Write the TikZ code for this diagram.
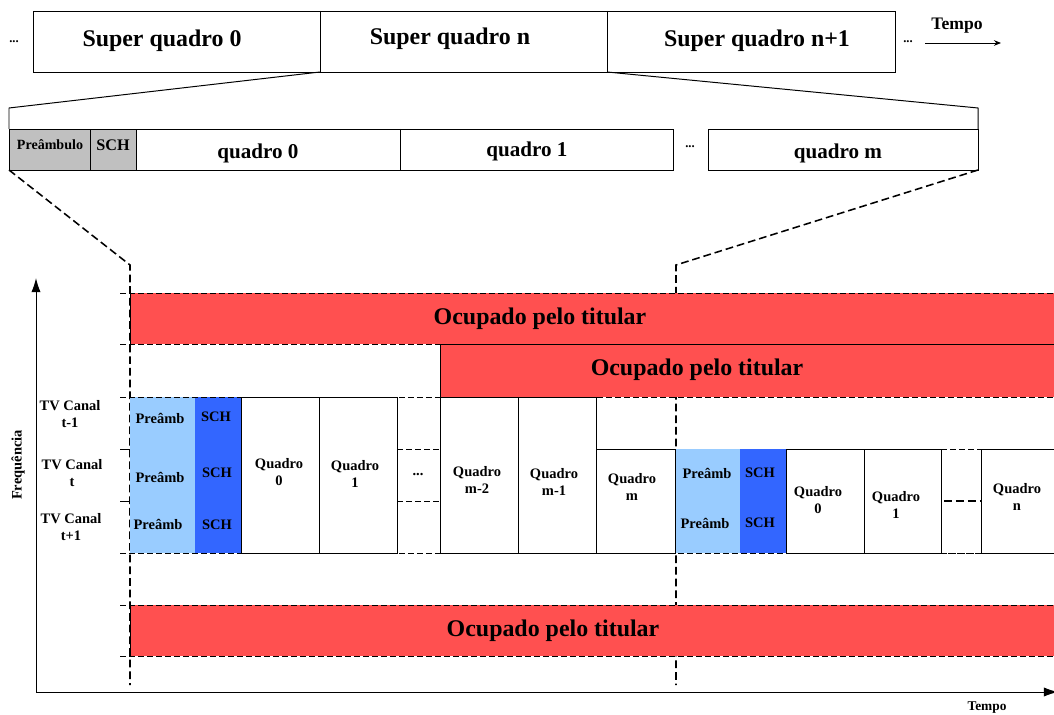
\documentclass[tikz,border=0pt]{standalone}
\usepackage{fontspec}
\setmainfont{Liberation Serif}
\usetikzlibrary{arrows.meta}

\definecolor{occ}{RGB}{255,80,80}
\definecolor{preamb}{RGB}{153,204,255}
\definecolor{sch}{RGB}{51,102,255}
\definecolor{hdr}{RGB}{192,192,192}

\tikzset{
  bigtxt/.style={font=\fontsize{17}{19}\selectfont\bfseries, inner sep=0pt},
  midtxt/.style={font=\fontsize{15}{17}\selectfont\bfseries, inner sep=0pt},
  hdrtxt/.style={font=\fontsize{10}{12}\selectfont\bfseries, inner sep=0pt},
  smalltxt/.style={font=\fontsize{10.3}{12}\selectfont\bfseries, align=center, inner sep=0pt},
  dotstxt/.style={font=\fontsize{9}{10}\selectfont\bfseries, inner sep=0pt},
  dsh/.style={dash pattern=on 4.2pt off 2.2pt, line width=0.7pt},
  vdsh/.style={dash pattern=on 5.5pt off 2.8pt, line width=1.1pt},
}

\begin{document}
\begin{tikzpicture}[x=0.025cm, y=-0.025cm, line width=0.7pt]
		\useasboundingbox (0,0) rectangle (1054,715);
		
		%%%%% super frames %%%%%
		\draw (33,11) rectangle (895,72);
		\draw (320,11) -- (320,72);
		\draw (607,11) -- (607,72);
		\node[bigtxt] (sq0) at (162,41) {Super quadro 0};
		\node[bigtxt] (sqn) at (450,39) {Super quadro n};
		\node[bigtxt] (sqn1) at (757,41) {Super quadro n+1};
		\node[dotstxt] (dl) at (14,42) {...};
		\node[dotstxt] (dr) at (908,42) {...};
		\coordinate (t0) at (925,43);
		\coordinate (t1) at (1001,43);
		\draw[-{Stealth[length=5pt,width=4pt]}] (t0) -- (t1);
		\node[font=\fontsize{12.5}{14}\selectfont\bfseries, inner sep=0pt] (tempo) at (957,26) {Tempo};
		
		%%%%% frames of super frame n %%%%%
		\draw[fill=hdr] (9,129) rectangle (90,170);
		\draw[fill=hdr] (90,129) rectangle (136,170);
		\draw (136,129) rectangle (673,170);
		\draw (400,129) -- (400,170);
		\draw (708,129) rectangle (978,170);
		\node[hdrtxt] (pre) at (50,145) {Preâmbulo};
		\node[font=\fontsize{11.5}{13}\selectfont\bfseries, inner sep=0pt] (sch) at (113,145) {SCH};
		\node[midtxt] (q0) at (258,153) {quadro 0};
		\node[midtxt] (q1) at (527,151) {quadro 1};
		\node[dotstxt] (qd) at (690,147) {...};
		\node[midtxt] (qm) at (838,153) {quadro m};
		
		% zoom lines
		\coordinate (sna) at (320,72);
		\coordinate (snb) at (607,72);
		\coordinate (fa) at (9,108);
		\coordinate (fb) at (9,129);
		\coordinate (fc) at (978,108);
		\coordinate (fd) at (978,129);
		\draw (sna) -- (fa) -- (fb);
		\draw (snb) -- (fc) -- (fd);
		
		% zoom lines down to the channels
		\coordinate (fe) at (9,170);
		\coordinate (ff) at (978,170);
		\coordinate (ka) at (130,265);
		\coordinate (kb) at (676,265);
		\coordinate (kc) at (130,685);
		\coordinate (kd) at (676,685);
		\draw[vdsh] (fe) -- (ka) -- (kc);
		\draw[vdsh] (ff) -- (kb) -- (kd);
		
		%%%%% occupied bands %%%%%
		\fill[occ] (130,293) rectangle (1054,344);
		\fill[occ] (440,344) rectangle (1054,397);
		\fill[occ] (130,605) rectangle (1054,656);
		\draw (130,293) -- (130,344);
		\draw (130,605) -- (130,656);
		\node[bigtxt] (oc1) at (540,319) {Ocupado pelo titular};
		\node[bigtxt] (oc2) at (697,370) {Ocupado pelo titular};
		\node[bigtxt] (oc3) at (553,631) {Ocupado pelo titular};
		
		%%%%% channels %%%%%
		\fill[preamb] (130,397) rectangle (195,553);
		\fill[sch] (195,397) rectangle (241,553);
		\fill[preamb] (675,449) rectangle (740,553);
		\fill[sch] (740,449) rectangle (786,553);
		
		\foreach \y in {293,344,397,553,605,656}
			\draw[dsh] (120,\y) -- (1054,\y);
		\foreach \y in {449,501}
			\draw (120,\y) -- (130,\y);
		\draw (440,397) -- (440,344) -- (1054,344);
		
		\draw (241,397) rectangle (319,553);
		\draw (319,397) rectangle (397,553);
		\draw[dsh] (397,449) -- (440,449);
		\draw[dsh] (397,501) -- (440,501);
		\draw (440,397) rectangle (518,553);
		\draw (518,397) rectangle (596,553);
		\draw (596,449) rectangle (675,553);
		\draw (786,449) rectangle (864,553);
		\draw (864,449) rectangle (941,553);
		\draw[dsh] (941,449) -- (981,449);
		\draw[dsh] (941,553) -- (981,553);
		\draw[dash pattern=on 6pt off 2.5pt, line width=1.3pt] (944,501) -- (980,501);
		\draw (1054,449) -- (981,449) -- (981,553) -- (1054,553);
		
		% labels
		\node[smalltxt] (tv1) at (70,414) {TV Canal\\t-1};
		\node[smalltxt] (tv2) at (72,473) {TV Canal\\t};
		\node[smalltxt] (tv3) at (71,527) {TV Canal\\t+1};
		
		\node[smalltxt] (pa1) at (160,418) {Preâmb};
		\node[smalltxt] (pa2) at (160,477) {Preâmb};
		\node[smalltxt] (pa3) at (158,524) {Preâmb};
		\node[smalltxt] (sa1) at (216,417) {SCH};
		\node[smalltxt] (sa2) at (217,473) {SCH};
		\node[smalltxt] (sa3) at (217,525) {SCH};
		\node[smalltxt] (qa0) at (279,472) {Quadro\\0};
		\node[smalltxt] (qa1) at (355,474) {Quadro\\1};
		\node[smalltxt] (qad) at (418,475) {...};
		\node[smalltxt] (qa2) at (477,480) {Quadro\\m-2};
		\node[smalltxt] (qa3) at (554,482) {Quadro\\m-1};
		\node[smalltxt] (qa4) at (632,487) {Quadro\\m};
		
		\node[smalltxt] (pb1) at (707,473) {Preâmb};
		\node[smalltxt] (pb2) at (705,523) {Preâmb};
		\node[smalltxt] (sb1) at (760,473) {SCH};
		\node[smalltxt] (sb2) at (760,523) {SCH};
		\node[smalltxt] (qb0) at (818,500) {Quadro\\0};
		\node[smalltxt] (qb1) at (896,505) {Quadro\\1};
		\node[smalltxt] (qbn) at (1017,497) {Quadro\\n};
		
		%%%%% axes %%%%%
		\coordinate (o) at (36,692);
		\coordinate (fy) at (36,278);
		\coordinate (fx) at (1058,692);
		\draw[-{Latex[length=10pt,width=6.5pt]}] (o) -- (fy);
		\draw[-{Latex[length=10pt,width=6.5pt]}] (o) -- (fx);
		\node[smalltxt, rotate=90] (freq) at (18,465) {Frequência};
		\node[smalltxt, font=\fontsize{9.5}{11}\selectfont\bfseries] (tempo2) at (987,708) {Tempo};
		
	\end{tikzpicture}
\end{document}
